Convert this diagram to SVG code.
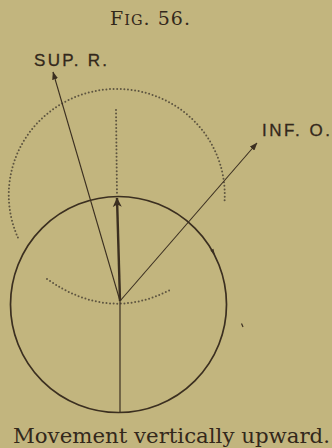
<svg xmlns="http://www.w3.org/2000/svg" width="332" height="448" viewBox="0 0 332 448">
  <style>
    .ink { stroke: #3b2f20; fill: none; }
    .dots { stroke: #5e5540; fill: none; stroke-width: 2; stroke-linecap: round; stroke-dasharray: 0 3.6; }
    .lbl { font-family: "Liberation Sans", Arial, sans-serif; fill: #33281b; stroke: #33281b; stroke-width: 0.3; }
    .serif { font-family: "DejaVu Serif", "Liberation Serif", serif; fill: #33281b; }
  </style>
  <defs>
    <marker id="thin" markerUnits="userSpaceOnUse" markerWidth="8" markerHeight="6" refX="7.5" refY="3" orient="auto">
      <path d="M0,0 L8,3 L0,6 z" fill="#3b2f20"/>
    </marker>
    <marker id="thick" markerUnits="userSpaceOnUse" markerWidth="10" markerHeight="10" refX="9" refY="5" orient="auto">
      <path d="M0,0.5 L9.5,5 L0,9.5 L2.5,5 z" fill="#3b2f20"/>
    </marker>
  </defs>
  <rect width="332" height="448" fill="#c2b57e"/>

  <text class="serif" x="110" y="25" textLength="80" lengthAdjust="spacing"><tspan font-size="19">F</tspan><tspan font-size="14.5">IG</tspan><tspan font-size="19">. 56.</tspan></text>

  <g id="dotted-circle">
    <path class="dots" d="M17.9,237.6 A108,106 0 1,1 224.5,202.1"/>
    <path class="dots" d="M116,110 L117,195"/>
    <path class="dots" d="M47,279 Q108,322 170,290"/>
  </g>

  <g id="circle">
    <circle class="ink" cx="118.5" cy="304.5" r="108" stroke-width="1.7"/>
    <path d="M215,255.2 L210.4,250.6 L213.4,248.8 z" fill="#3b2f20"/>
  </g>

  <g id="connectors">
    <line class="ink" x1="120" y1="301" x2="120" y2="412" stroke-width="1.2"/>
    <line class="ink" x1="120" y1="301" x2="117" y2="198" stroke-width="2.4" marker-end="url(#thick)"/>
    <line class="ink" x1="120" y1="301" x2="53" y2="72" stroke-width="1.1" marker-end="url(#thin)"/>
    <line class="ink" x1="120" y1="301" x2="257" y2="143" stroke-width="1.1" marker-end="url(#thin)"/>
  </g>

  <g id="sup-r">
    <text class="lbl" x="34" y="66" font-size="17" textLength="73" lengthAdjust="spacing">SUP. R.</text>
  </g>
  <g id="inf-o">
    <text class="lbl" x="262" y="136" font-size="17" textLength="68" lengthAdjust="spacing">INF. O.</text>
  </g>

  <path d="M241.5,323.5 L243,327" stroke="#3b2f20" stroke-width="1.2"/>

  <text class="serif" x="13" y="443" font-size="21" textLength="317" lengthAdjust="spacingAndGlyphs">Movement vertically upward.</text>
</svg>
